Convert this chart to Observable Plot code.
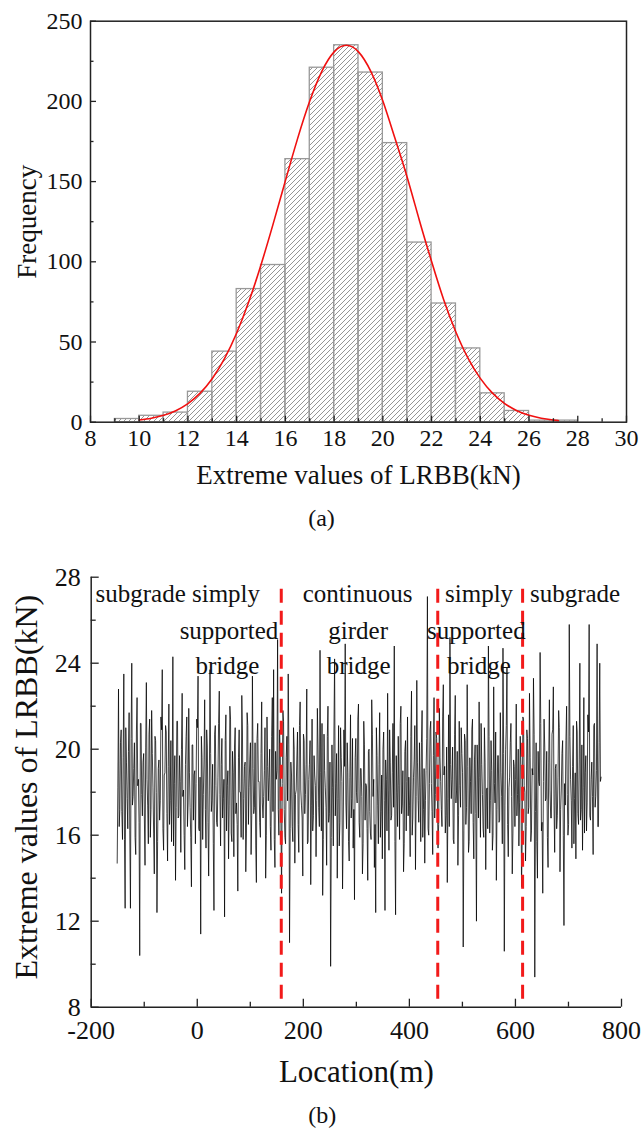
<!DOCTYPE html>
<html><head><meta charset="utf-8">
<script src="https://cdn.jsdelivr.net/npm/d3@7"></script>
<script src="https://cdn.jsdelivr.net/npm/@observablehq/plot@0.6"></script>
<style>
html,body{margin:0;padding:0;background:#fff;}
#wrap{width:642px;height:1135px;position:relative;overflow:hidden;background:#fff;}
#wrap svg{display:block;}
</style></head><body><div id="wrap"></div>
<script>
// ---------- (a) histogram data ----------
const binLower = [9,10,11,12,13,14,15,16,17,18,19,20,21,22,23,24,25,26,27];
const binUpper = [10,11,12,13,14,15,16,17,18,19,20,21,22,23,24,25,26,27,28];
const binCounts = [2,4,6,19,44,83,98,164,221,235,218,174,112,74,46,18,7,1,1];
const fitX = [10,10.5,11,11.5,12,12.5,13,13.5,14,14.5,15,15.5,16,16.5,17,17.5,18,18.5,19,19.5,20,20.5,21,21.5,22,22.5,23,23.5,24,24.5,25,25.5,26,26.5,27,27.2];
const fitY = [1.4,2.5,4.3,7.2,11.6,18.1,27.3,39.6,55.6,75.2,98.2,123.8,150.6,176.8,200.2,218.9,230.9,235,230.9,218.9,200.2,176.8,152.6,125.8,100.2,76.2,56.1,39.8,27.3,18.1,11.6,7.2,4.3,2.5,1.4,1.0];
const histXTicks = [8,10,12,14,16,18,20,22,24,26,28,30];
const histXMinor = [9,11,13,15,17,19,21,23,25,27,29];
const histYTicks = [0,50,100,150,200,250];
const histYMinor = [25,75,125,175,225];

// ---------- (b) line data (samples every 2.5 m, plus the samples half-way between) ----------
const locStart = -151, locStep = 2.5;
const lrbbValues = [
14.7,22.8,17.2,20.9,15.8,23.5,12.6,19.4,16.3,21.7,
12.6,24.0,17.8,20.3,15.1,22.4,18.6,10.4,21.2,16.9,
19.8,14.6,23.1,17.4,20.7,15.9,21.8,18.2,14.2,20.4,
12.4,19.1,16.7,21.5,23.7,15.3,18.9,20.8,14.8,22.1,
17.6,15.7,24.3,18.4,13.9,21.3,16.8,19.7,15.2,22.6,
18.1,14.4,20.6,16.4,21.9,17.3,13.6,20.2,18.8,15.6,
21.4,23.4,16.2,11.4,19.6,17.9,22.3,15.4,20.1,14.1,
23.7,17.1,19.3,12.5,21.1,16.6,18.7,22.7,15.5,20.5,
17.7,12.2,21.6,18.3,14.9,22.0,16.1,19.9,15.0,21.0,
17.5,13.4,20.9,18.0,22.5,15.8,19.2,14.3,21.7,16.5,
19.5,15.1,23.4,17.0,20.3,13.8,21.2,18.5,15.9,22.2,
16.8,19.0,14.0,21.5,17.6,20.0,15.3,22.4,23.7,14.5,
18.6,25.1,16.0,19.8,13.3,21.8,17.2,15.6,20.6,23.5,
11.0,19.4,16.4,21.0,14.7,18.1,20.8,15.2,22.2,17.4,
14.1,20.4,17.9,22.8,15.7,19.3,13.7,21.4,16.9,18.8,
15.0,21.9,17.3,24.6,16.2,13.2,20.7,18.2,14.6,22.0,
17.0,9.9,20.2,15.5,24.2,18.4,14.0,21.1,16.6,19.6,
13.5,20.9,24.9,16.3,18.9,14.8,21.6,17.7,15.4,13.0,
20.5,17.5,22.1,15.9,19.1,14.2,21.3,16.7,18.3,13.9,
20.0,16.1,22.3,17.8,14.5,12.4,19.7,15.6,21.7,17.1,
14.9,20.8,12.5,18.6,22.6,15.3,19.4,16.9,21.2,24.8,
12.3,18.0,20.6,15.8,22.0,17.4,14.3,19.9,16.2,21.5,
18.7,15.0,22.7,16.8,19.5,14.4,23.2,17.6,20.3,15.7,
21.8,17.2,14.7,19.0,27.1,16.0,20.9,18.4,15.1,22.4,
17.9,20.5,15.4,21.9,18.5,16.4,23.0,19.2,16.9,13.8,
21.6,25.2,17.7,20.1,15.6,22.5,18.1,14.6,21.3,17.3,
19.8,10.8,20.7,16.5,23.0,15.2,19.6,17.0,21.4,14.9,
20.2,12.0,18.8,22.2,15.9,19.3,16.3,21.0,14.4,18.2,
24.8,16.1,20.4,15.3,22.9,17.5,13.9,19.7,16.6,21.7,
17.8,24.7,10.6,20.0,23.8,15.0,18.7,21.2,14.2,19.5,
16.4,22.1,17.9,15.5,20.6,13.6,21.5,18.3,14.8,20.9,
17.0,22.6,15.7,19.1,23.3,9.4,20.3,14.0,18.5,24.5,
16.2,13.3,21.4,17.6,19.9,14.5,22.3,16.8,20.7,22.9,
15.2,19.3,16.9,21.8,14.3,18.1,20.4,11.8,17.4,22.0,
16.0,25.8,18.6,15.4,21.1,17.7,14.9,20.8,16.5,24.0,
17.2,15.3,22.4,18.9,16.2,21.6,25.8,16.7,19.4,15.1,
21.2,17.8,24.9,16.4,24.0,18.7
];
const lrbbValuesMid = [
18.2,16.4,20.3,17.1,19.6,15.8,21.0,17.7,19.9,16.2,
20.5,17.4,19.1,15.9,20.8,18.3,16.6,21.2,17.9,19.4,
16.8,20.1,18.6,15.6,21.4,17.2,19.8,16.1,20.6,18.0,
15.7,19.5,17.6,20.9,16.3,18.8,21.1,17.0,19.2,16.5,
20.4,18.1,15.5,19.7,17.3,21.3,16.9,18.5,20.0,17.8,
16.0,19.3,21.5,17.5,18.9,15.9,20.2,16.7,19.0,18.4,
21.0,16.3,18.7,20.6,15.8,19.5,17.2,20.9,16.6,18.1,
19.8,17.6,15.6,20.7,18.3,16.4,21.2,17.9,19.3,16.8,
18.6,20.4,16.2,19.0,17.4,21.4,15.7,18.9,20.1,17.0,
16.5,19.6,18.0,15.9,20.8,17.7,19.4,16.1,21.1,18.2,
20.3,16.9,19.1,17.3,15.5,20.5,18.5,16.6,19.8,17.5,
17.8,21.0,16.0,19.2,18.7,16.4,20.6,17.1,15.8,19.9,
19.0,17.2,20.9,16.7,18.4,21.3,15.9,19.6,17.6,20.2,
16.3,18.8,15.7,20.0,17.9,19.5,16.5,21.1,18.1,16.8,
20.7,17.0,19.3,15.6,18.6,20.4,17.4,16.2,19.7,18.3,
17.6,20.1,16.4,18.9,21.2,15.8,19.0,17.3,20.6,16.6,
19.4,15.9,18.2,20.8,16.9,19.8,17.7,15.5,21.0,18.5,
16.1,19.2,17.5,20.3,15.7,18.7,16.8,20.5,17.2,19.6,
18.0,21.4,16.6,19.1,17.8,15.6,20.2,18.4,16.3,19.9,
17.1,15.8,20.7,18.6,16.5,21.0,17.4,19.3,15.9,18.8,
20.0,17.6,19.5,16.2,18.1,20.9,16.7,18.9,17.3,15.7,
19.7,16.4,18.3,21.2,17.0,19.0,15.6,20.4,18.5,16.9,
17.4,20.6,16.0,18.7,21.1,17.8,19.4,16.6,18.2,20.3,
15.9,19.1,17.6,20.5,16.3,18.4,21.3,17.1,19.7,16.8,
20.8,18.0,16.5,19.6,17.2,21.5,18.8,16.1,20.1,17.7,
16.4,19.3,18.6,15.8,20.7,17.5,19.9,16.9,18.3,21.0,
18.9,16.2,20.4,17.3,19.2,15.7,18.5,20.9,16.6,19.5,
17.0,20.2,16.8,18.7,21.2,17.9,15.9,19.4,18.1,16.3,
20.6,17.6,19.0,16.0,18.4,20.8,17.2,19.7,16.7,18.9,
15.6,19.8,17.4,21.1,16.5,18.2,20.3,17.8,16.1,19.2,
18.6,16.9,20.0,17.5,19.3,15.8,21.4,18.0,16.4,20.5,
17.3,19.6,16.2,18.8,20.7,17.1,15.7,19.9,18.3,21.2,
16.6,18.5,20.1,17.7,15.9,19.4,18.1,16.8,20.9,17.4,
19.1,16.3,18.7,21.0,17.2,19.8,16.0,18.4,20.4,17.9,
16.5,20.6,17.6,19.2,15.6,18.9,21.3,17.0,19.5,16.7,
20.2,18.2,16.1,19.7,17.5,20.8,16.9,18.6,17.8,21.1,
17.3,19.0,16.4,20.3,18.5,19.1
];
const boundaryLocs = [158.4, 453.5, 613.5];
const locDomain = [-200, 800];
const lrbbDomain = [8, 28];
const locTicks = [-200,0,200,400,600,800];
const locMinor = [-100,100,300,500,700];
const lrbbTicks = [8,12,16,20,24,28];
const lrbbMinor = [10,14,18,22,26];
const regionText = ["subgrade simply","supported","bridge","continuous","girder","bridge","simply","supported","bridge","subgrade"];
const regionLoc  = [-191.9, 152.7, 56.7, 302.4, 303.4, 304.3, 467.2, 433.3, 471, 627.3];
const regionLevel= [27.21, 25.5, 23.85, 27.21, 25.5, 23.85, 27.21, 25.5, 23.85, 27.21];
const regionAlign= ["start","end","middle","middle","middle","middle","start","start","start","start"];

// ---------- helpers ----------
const FONT = "'Liberation Serif','Times New Roman',serif";
const hatchDefs = () => {
  const ns = "http://www.w3.org/2000/svg";
  const g = document.createElementNS(ns, "defs");
  g.innerHTML = '<pattern id="hatch" patternUnits="userSpaceOnUse" width="5" height="5">' +
    '<path d="M-1,1 l2,-2 M0,5 l5,-5 M4,6 l2,-2" stroke="#7a7a7a" stroke-width="0.8" fill="none"/></pattern>';
  return g;
};
const plainFormat = d => String(d);

// ---------- (a) ----------
const bins = binLower.map((b, i) => ({x1: b, x2: binUpper[i], count: binCounts[i]}));
const fit = fitX.map((x, i) => ({x, y: fitY[i]}));
const topH = 545, topMT = 20.7, topMB = 123.3, topML = 90, topMR = 16;
const topInnerH = topH - topMT - topMB, topInnerW = 642 - topML - topMR;

const chartA = Plot.plot({
  width: 642, height: topH,
  marginTop: topMT, marginBottom: topMB, marginLeft: topML, marginRight: topMR,
  style: {fontFamily: FONT, background: "#fff", color: "#111", overflow: "visible"},
  x: {domain: [8, 30]},
  y: {domain: [0, 250]},
  marks: [
    hatchDefs,
    Plot.rectY(bins, {x1: "x1", x2: "x2", y: "count", fill: "url(#hatch)", stroke: "#999", strokeWidth: 1.3}),
    Plot.line(fit, {x: "x", y: "y", stroke: "#f01010", strokeWidth: 1.6, curve: "natural"}),
    Plot.frame({stroke: "#222", strokeWidth: 1.5}),
    Plot.tickX(histXTicks, {x: d => d, insetTop: topInnerH - 6, stroke: "#222", strokeWidth: 1.3}),
    Plot.tickX(histXMinor, {x: d => d, insetTop: topInnerH - 3.5, stroke: "#222", strokeWidth: 1.3}),
    Plot.tickY(histYTicks, {y: d => d, insetRight: topInnerW - 6, stroke: "#222", strokeWidth: 1.3}),
    Plot.tickY(histYMinor, {y: d => d, insetRight: topInnerW - 3.5, stroke: "#222", strokeWidth: 1.3}),
    Plot.axisX({ticks: histXTicks, tickFormat: plainFormat, tickSize: 0, tickPadding: 7, fontSize: 24, label: null}),
    Plot.axisY({ticks: histYTicks, tickFormat: plainFormat, tickSize: 0, tickPadding: 8, fontSize: 24, label: null}),
    Plot.text(["Frequency"], {text: d => d, frameAnchor: "left", textAnchor: "middle", rotate: -90, dx: -63, fontSize: 27, fill: "#111"}),
    Plot.text(["Extreme values of LRBB(kN)"], {text: d => d, frameAnchor: "bottom", dy: 62, fontSize: 27, fill: "#111"}),
    Plot.text(["(a)"], {text: d => d, frameAnchor: "bottom", dy: 104, dx: -37, fontSize: 24, fill: "#111"})
  ]
});

// ---------- (b) ----------
const lineData = lrbbValues.map((v, i) => ({loc: locStart + i * locStep, v}))
  .concat(lrbbValuesMid.map((v, i) => ({loc: locStart + (i + 0.5) * locStep, v})))
  .filter(d => d.loc <= 762)
  .sort((a, b) => a.loc - b.loc);
const regions = regionText.map((t, i) => ({t, loc: regionLoc[i], lvl: regionLevel[i], a: regionAlign[i]}));
const botH = 590, botMT = 31.7, botMB = 128.3, botML = 90.7, botMR = 21;
const botInnerH = botH - botMT - botMB, botInnerW = 642 - botML - botMR;

const chartB = Plot.plot({
  width: 642, height: botH,
  marginTop: botMT, marginBottom: botMB, marginLeft: botML, marginRight: botMR,
  style: {fontFamily: FONT, background: "#fff", color: "#111", overflow: "visible"},
  x: {domain: locDomain},
  y: {domain: lrbbDomain},
  marks: [
    Plot.line(lineData, {x: "loc", y: "v", stroke: "#000", strokeWidth: 0.75}),
    Plot.ruleX(boundaryLocs, {x: d => d, insetTop: 12, stroke: "#f21a1a", strokeWidth: 3, strokeDasharray: "14,8"}),
    ...["start", "end", "middle"].map(a =>
      Plot.text(regions.filter(r => r.a === a), {x: "loc", y: "lvl", text: "t", textAnchor: a, fontSize: 25, fill: "#111"})),
    Plot.ruleX([locDomain[0]], {x: d => d, stroke: "#222", strokeWidth: 1.5}),
    Plot.ruleY([lrbbDomain[0]], {y: d => d, stroke: "#222", strokeWidth: 1.5}),
    Plot.tickX(locTicks, {x: d => d, insetTop: botInnerH - 8, stroke: "#222", strokeWidth: 1.3}),
    Plot.tickX(locMinor, {x: d => d, insetTop: botInnerH - 5, stroke: "#222", strokeWidth: 1.3}),
    Plot.tickY(lrbbTicks, {y: d => d, insetRight: botInnerW - 8, stroke: "#222", strokeWidth: 1.3}),
    Plot.tickY(lrbbMinor, {y: d => d, insetRight: botInnerW - 5, stroke: "#222", strokeWidth: 1.3}),
    Plot.axisX({ticks: locTicks, tickFormat: plainFormat, tickSize: 0, tickPadding: 13, fontSize: 26, label: null}),
    Plot.axisY({ticks: lrbbTicks, tickFormat: plainFormat, tickSize: 0, tickPadding: 10.5, fontSize: 26, label: null}),
    Plot.text(["Extreme values of LRBB(kN)"], {text: d => d, frameAnchor: "left", textAnchor: "middle", rotate: -90, dx: -64, dy: -5, fontSize: 32, fill: "#111"}),
    Plot.text(["Location(m)"], {text: d => d, frameAnchor: "bottom", dy: 75, fontSize: 31, fill: "#111"}),
    Plot.text(["(b)"], {text: d => d, frameAnchor: "bottom", dy: 116, dx: -34, fontSize: 24, fill: "#111"})
  ]
});

const wrap = document.getElementById("wrap");
wrap.appendChild(chartA);
wrap.appendChild(chartB);
</script>
</body></html>
